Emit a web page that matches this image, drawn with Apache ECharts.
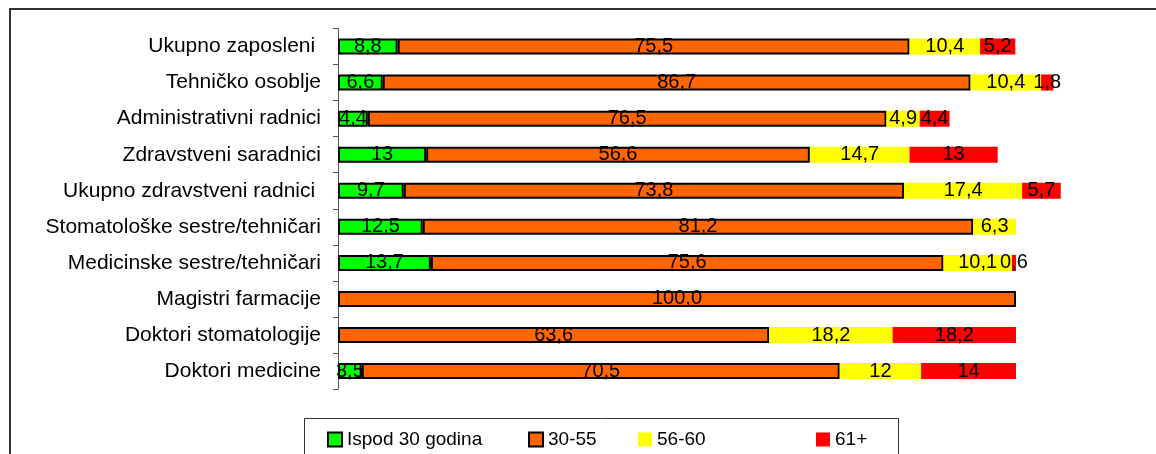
<!DOCTYPE html>
<html>
<head>
<meta charset="utf-8">
<script src="https://cdn.jsdelivr.net/npm/echarts/dist/echarts.min.js"></script>
<style>
    html, body { margin: 0; padding: 0; background: #fff; }
    #chart { width: 1156px; height: 454px; }
</style>
</head>
<body>
<div id="chart"></div>
<script>
// kategorije, odozgo prema dolje
var categories = ['Ukupno zaposleni ', 'Tehničko osoblje', 'Administrativni radnici', 'Zdravstveni saradnici',
    'Ukupno zdravstveni radnici ', 'Stomatološke sestre/tehničari', 'Medicinske sestre/tehničari',
    'Magistri farmacije', 'Doktori stomatologije', 'Doktori medicine'];
var ispod30 = [8.8, 6.6, 4.4, 13, 9.7, 12.5, 13.7, 0, 0, 3.5];
var od30do55 = [75.5, 86.7, 76.5, 56.6, 73.8, 81.2, 75.6, 100, 63.6, 70.5];
var od56do60 = [10.4, 10.4, 4.9, 14.7, 17.4, 6.3, 10.1, 0, 18.2, 12];
var preko61 = [5.2, 1.8, 4.4, 13, 5.7, 0, 0.6, 0, 18.2, 14];
var seriesNames = ['Ispod 30 godina', '30-55', '56-60', '61+'];

var colors = ['#00ff00', '#ff6600', '#ffff00', '#ff0000'];
var font = 'Liberation Sans, Arial, sans-serif';

function fmt(p) {
    var v = p.value;
    if (!v) return '';
    if (v === 100) return '100,0';
    return String(v).replace('.', ',');
}

function makeSeries(name, data, color, border) {
    return {
        name: name,
        type: 'bar',
        stack: 'ukupno',
        // nule se ne crtaju (inace ostaje crni rub)
        data: data.map(function (v) { return v === 0 ? '-' : v; }),
        barWidth: 16,
        clip: false,
        itemStyle: {
            color: color,
            borderColor: border ? '#000' : color,
            borderWidth: 2
        },
        label: {
            show: true,
            position: 'inside',
            formatter: fmt,
            color: '#000',
            fontFamily: font,
            fontSize: 20
        }
    };
}

function makeLegend(name, left, border) {
    return {
        data: [name],
        left: left,
        top: 430,
        padding: 0,
        itemWidth: 14,
        itemHeight: 14,
        itemGap: 4,
        selectedMode: false,
        icon: 'rect',
        itemStyle: border ? { borderColor: '#000', borderWidth: 2 } : { borderWidth: 0 },
        textStyle: { color: '#000', fontFamily: font, fontSize: 19, padding: [0, 0, 0, 0] }
    };
}

function initChart() {
    var myChart = echarts.init(document.getElementById('chart'));
    var option = {
        backgroundColor: '#fff',
        animation: false,
        grid: { left: 338, top: 28.5, width: 745.8, height: 360.6, containLabel: false },
        xAxis: { type: 'value', min: 0, max: 110, show: false },
        yAxis: {
            type: 'category',
            inverse: true,
            data: categories,
            axisLine: { show: true, lineStyle: { color: '#555', width: 1 } },
            axisTick: { show: true, length: 5, lineStyle: { color: '#555' } },
            axisLabel: { color: '#000', fontFamily: font, fontSize: 21, margin: 17 }
        },
        legend: [
            makeLegend(seriesNames[0], 327, true),
            makeLegend(seriesNames[1], 528, true),
            makeLegend(seriesNames[2], 638, false),
            makeLegend(seriesNames[3], 816, false)
        ],
        graphic: [
            {
                type: 'rect',
                shape: { x: 10, y: 9, width: 1160, height: 470 },
                style: { fill: null, stroke: '#333', lineWidth: 2 },
                silent: true
            },
            {
                type: 'rect',
                shape: { x: 304.5, y: 418.5, width: 594, height: 60 },
                style: { fill: null, stroke: '#333', lineWidth: 1 },
                silent: true
            }
        ],
        series: [
            makeSeries(seriesNames[0], ispod30, colors[0], true),
            makeSeries(seriesNames[1], od30do55, colors[1], true),
            makeSeries(seriesNames[2], od56do60, colors[2], false),
            makeSeries(seriesNames[3], preko61, colors[3], false)
        ]
    };
    myChart.setOption(option);
}

window.onload = function () {
    initChart();
};
</script>
</body>
</html>
